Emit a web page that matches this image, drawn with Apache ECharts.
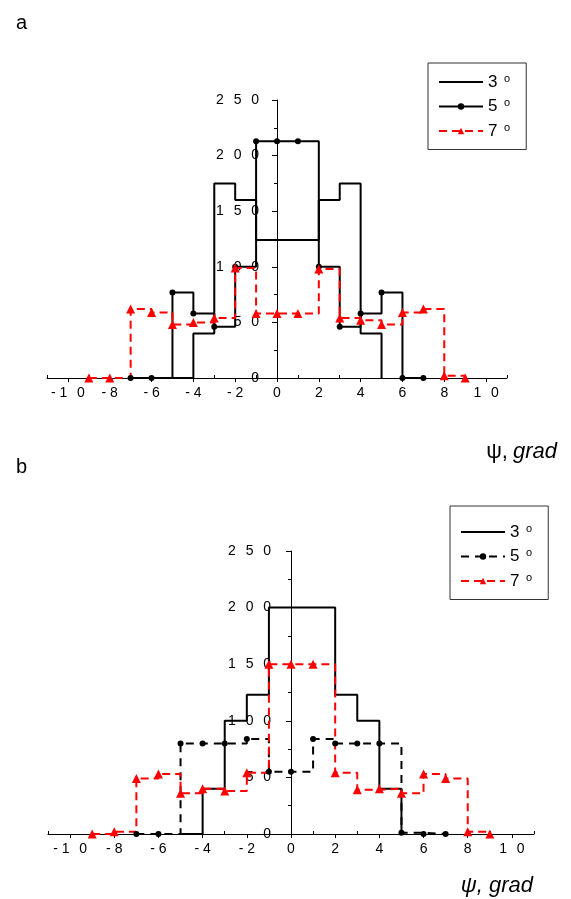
<!DOCTYPE html>
<html lang="en">
<head>
<meta charset="UTF-8">
<title>psi distributions</title>
<script src="https://cdn.jsdelivr.net/npm/echarts@6/dist/echarts.min.js"></script>
<style>
    html, body { margin: 0; padding: 0; background: #fff; }
    #main { width: 571px; height: 899px; }
</style>
</head>
<body>
<div id="main"></div>
<script>
// ---- panel a ----
var aX3 = [-5, -4, -3, -2, -1, 0, 1, 2, 3, 4, 5];
var aY3 = [0, 40, 175, 160, 124, 124, 124, 160, 175, 40, 0];
var aX5 = [-7, -6, -5, -4, -3, -2, -1, 0, 1, 2, 3, 4, 5, 6, 7];
var aY5 = [0, 0, 77, 58, 46, 100, 213, 213, 213, 100, 46, 58, 77, 0, 0];
var aX7 = [-9, -8, -7, -6, -5, -4, -3, -2, -1, 0, 1, 2, 3, 4, 5, 6, 7, 8, 9];
var aY7 = [0, 0, 62, 59, 48, 50, 54, 99, 58, 58, 58, 98, 54, 52, 48, 59, 62, 2, 0];

// ---- panel b ----
var bX3 = [-5, -4, -3, -2, -1, 0, 1, 2, 3, 4, 5];
var bY3 = [0, 40, 100, 123, 200, 200, 200, 123, 100, 40, 0];
var bX5 = [-7, -6, -5, -4, -3, -2, -1, 0, 1, 2, 3, 4, 5, 6, 7];
var bY5 = [0, 0, 80, 80, 80, 84, 55, 55, 84, 80, 80, 80, 1, 0, 0];
var bX7 = [-9, -8, -7, -6, -5, -4, -3, -2, -1, 0, 1, 2, 3, 4, 5, 6, 7, 8, 9];
var bY7 = [0, 2, 49, 53, 36, 40, 38, 54, 150, 150, 150, 54, 39, 40, 36, 53, 49, 2, 0];

// axes
var xMajor = [-10, -8, -6, -4, -2, 0, 2, 4, 6, 8, 10];
var xMinor = [-11, -9, -7, -5, -3, -1, 1, 3, 5, 7, 9, 11];

var FONT = 'Liberation Sans, Arial, sans-serif';

function pts(xs, ys) {
    return xs.map(function (x, i) { return [x, ys[i]]; });
}

// "-10" -> "- 1 0" like the original figure
function spaced(v) {
    var s = String(v);
    var neg = s.charAt(0) === '-';
    var d = (neg ? s.slice(1) : s).split('').join('\u2002\u2009');
    return neg ? '- ' + d : d;
}

function xAxes(g) {
    return [{
        type: 'value', gridIndex: g, position: 'bottom', min: -11, max: 11, interval: 1,
        splitLine: { show: false },
        axisLine: { onZero: false, lineStyle: { color: '#000', width: 1 } },
        axisTick: { customValues: xMajor, length: 4, lineStyle: { color: '#000' } },
        axisLabel: { customValues: xMajor, formatter: spaced, margin: 8, fontSize: 14, color: '#000', fontFamily: FONT, hideOverlap: false }
    }, {
        type: 'value', gridIndex: g, position: 'bottom', min: -11, max: 11, interval: 1,
        splitLine: { show: false },
        axisLine: { show: false, onZero: false },
        axisTick: { customValues: xMinor, inside: true, length: 3, lineStyle: { color: '#000' } },
        axisLabel: { show: false }
    }];
}

// y axis sits at x = 0, moved there with offset (half the grid width)
function yAxis(g, shift, margin) {
    return {
        type: 'value', gridIndex: g, position: 'left', offset: -shift,
        min: 0, max: 250, interval: 50,
        splitLine: { show: false },
        axisLine: { onZero: false, lineStyle: { color: '#000', width: 1 } },
        axisTick: { length: 5, lineStyle: { color: '#000' } },
        minorTick: { show: true, splitNumber: 2, length: 3, lineStyle: { color: '#000' } },
        axisLabel: { formatter: spaced, margin: margin, fontSize: 14, color: '#000', fontFamily: FONT, hideOverlap: false }
    };
}

function stepSeries(name, g, data, kind) {
    var s = {
        name: name, type: 'line', step: 'end',
        xAxisIndex: g * 2, yAxisIndex: g,
        data: data, animation: false,
        lineStyle: { color: '#000', width: 2 },
        itemStyle: { color: '#000' },
        symbol: 'none'
    };
    if (kind === 'dot' || kind === 'dotdash') {
        s.symbol = 'circle';
        s.symbolSize = 6;
        if (kind === 'dotdash') s.lineStyle.type = [8, 6];
    }
    if (kind === 'tri') {
        s.symbol = 'triangle';
        s.symbolSize = 9;
        s.lineStyle = { color: '#ff0000', width: 2, type: [8, 5] };
        s.itemStyle = { color: '#ff0000' };
    }
    return s;
}

function legendOf(names, left, top, pad) {
    return {
        data: [
            { name: names[0], itemStyle: { opacity: 0 } },
            { name: names[1] },
            { name: names[2] }
        ],
        orient: 'vertical', left: left, top: top,
        borderColor: '#333', borderWidth: 1, padding: pad,
        itemWidth: 44, itemHeight: 8, itemGap: 7,
        selectedMode: false,
        formatter: function (n) { return '{n|' + n.slice(1) + '}  {s|o}'; },
        textStyle: {
            color: '#000', fontFamily: FONT,
            rich: {
                n: { fontSize: 17, lineHeight: 18, fontFamily: FONT, color: '#000' },
                s: { fontSize: 11, lineHeight: 11, verticalAlign: 'top', fontFamily: FONT, color: '#000' }
            }
        }
    };
}

var chart = echarts.init(document.getElementById('main'), null, { renderer: 'canvas' });
chart.setOption({
    backgroundColor: '#fff',
    animation: false,
    title: [
        { text: 'a', left: 11, top: 8, textStyle: { fontSize: 20, fontWeight: 'normal', color: '#000', fontFamily: FONT } },
        { text: 'b', left: 11, top: 452, textStyle: { fontSize: 20, fontWeight: 'normal', color: '#000', fontFamily: FONT } },
        {
            text: '{u|\u03c8,} {i|grad}', right: 9, top: 436,
            textStyle: { fontWeight: 'normal', rich: {
                u: { fontSize: 22, fontWeight: 'normal', color: '#000', fontFamily: FONT },
                i: { fontSize: 22, fontWeight: 'normal', fontStyle: 'italic', color: '#000', fontFamily: FONT }
            } }
        },
        {
            text: '{i|\u03c8, grad}', right: 33, top: 870,
            textStyle: { fontWeight: 'normal', rich: {
                i: { fontSize: 22, fontWeight: 'normal', fontStyle: 'italic', color: '#000', fontFamily: FONT }
            } }
        }
    ],
    legend: [
        legendOf(['a3', 'a5', 'a7'], 428, 63, [10, 16, 10, 10]),
        legendOf(['b3', 'b5', 'b7'], 450, 506, [17, 16, 10, 10])
    ],
    grid: [
        { left: 47, top: 100, width: 460, height: 278, outerBoundsMode: 'none', containLabel: false },
        { left: 48, top: 551, width: 486, height: 283, outerBoundsMode: 'none', containLabel: false }
    ],
    xAxis: xAxes(0).concat(xAxes(1)),
    yAxis: [yAxis(0, 230, 18), yAxis(1, 243, 20)],
    series: [
        stepSeries('a3', 0, pts(aX3, aY3), 'solid'),
        stepSeries('a5', 0, pts(aX5, aY5), 'dot'),
        stepSeries('a7', 0, pts(aX7, aY7), 'tri'),
        stepSeries('b3', 1, pts(bX3, bY3), 'solid'),
        stepSeries('b5', 1, pts(bX5, bY5), 'dotdash'),
        stepSeries('b7', 1, pts(bX7, bY7), 'tri')
    ]
});
</script>
</body>
</html>
